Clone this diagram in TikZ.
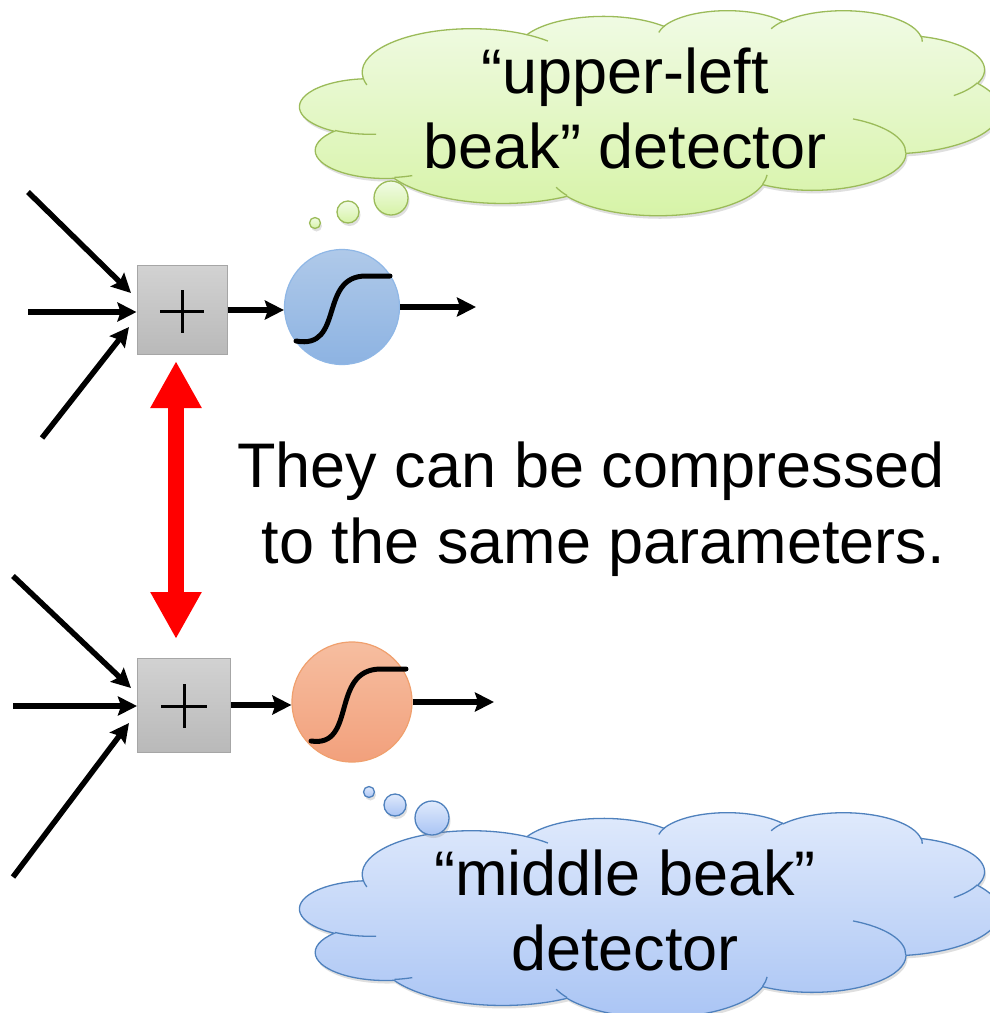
\documentclass[tikz,border=0pt]{standalone}
\usepackage{fontspec}
\setmainfont{Liberation Sans}
\usetikzlibrary{arrows.meta,shadows}
\definecolor{gcloudtop}{HTML}{F1FBE6}
\definecolor{gcloudbot}{HTML}{D6F3A6}
\definecolor{gcloudline}{HTML}{9BBB59}
\definecolor{bcloudtop}{HTML}{E0EAFC}
\definecolor{bcloudbot}{HTML}{A9C4F4}
\definecolor{bcloudline}{HTML}{4F81BD}
\definecolor{bluetop}{HTML}{AFC9E9}
\definecolor{bluebot}{HTML}{8DB3E2}
\definecolor{blueline}{HTML}{8FB7E6}
\definecolor{orangetop}{HTML}{F6BEA0}
\definecolor{orangebot}{HTML}{F2A07C}
\definecolor{orangeline}{HTML}{F0A06E}
\definecolor{boxtop}{HTML}{D2D2D2}
\definecolor{boxbot}{HTML}{B9B9B9}
\definecolor{boxline}{HTML}{A6A6A6}
% ---- PowerPoint cloud geometry (43200 grid / 100) ----
\newcommand\cpath{}
\newcommand\ooarc[4]{%
  \pgfmathsetmacro\tS{atan2(#1*sin(#3),#2*cos(#3))}%
  \pgfmathsetmacro\tE{atan2(#1*sin(#3+#4),#2*cos(#3+#4))}%
  \pgfmathsetmacro\dT{ifthenelse(#4>0,mod(\tE-\tS+720,360),-mod(\tS-\tE+720,360))}%
  \xdef\cpath{\cpath arc[x radius=#1,y radius=#2,start angle=\tS,delta angle=\dT]}}
\newcommand\oomove[1]{\xdef\cpath{\cpath (#1)}}
\gdef\cpath{(39.00,143.70)}
\ooarc{67.53}{91.90}{-190.48748}{123.78053}
\ooarc{53.33}{72.67}{-144.10238}{89.94523}
\ooarc{43.65}{59.45}{-145.80792}{99.72302}
\ooarc{48.57}{65.95}{-130.98607}{117.24173}
\ooarc{53.33}{72.73}{-78.70888}{109.02692}
\ooarc{67.75}{92.20}{-46.26725}{130.269}
\ooarc{57.85}{78.67}{0.62502}{114.03333}
\ooarc{67.52}{92.15}{22.4516}{115.17255}
\ooarc{77.20}{105.43}{66.24263}{75.71102}
\ooarc{43.60}{59.18}{-274.94208}{146.73557}
\ooarc{43.45}{59.45}{-246.8285}{152.51885}
\xdef\cpath{\cpath -- cycle}
\let\cloudouter\cpath
\gdef\cpath{}
\oomove{46.93,261.77}\ooarc{43.45}{59.45}{86.742}{26.4295}
\oomove{69.28,348.99}\ooarc{43.60}{59.18}{73.61047}{11.44747}
\oomove{164.78,390.90}\ooarc{67.52}{92.15}{137.62415}{14.0811}
\oomove{288.27,347.51}\ooarc{67.52}{92.15}{6.45327}{15.99835}
\oomove{341.29,229.54}\ooarc{57.85}{78.67}{-70.29235}{70.91737}
\oomove{417.98,153.54}\ooarc{53.33}{72.73}{30.31803}{27.7515}
\oomove{383.24,54.26}\ooarc{48.57}{65.95}{-13.74433}{14.8589}
\oomove{290.78,39.52}\ooarc{48.57}{65.95}{-149.18145}{18.19537}
\oomove{221.41,47.20}\ooarc{43.65}{59.45}{-163.49427}{17.68635}
\oomove{140.00,51.92}\ooarc{67.53}{91.90}{-66.70695}{12.31935}
\oomove{41.27,157.89}\ooarc{67.53}{91.90}{157.65435}{11.85817}
\let\cloudinner\cpath
\tikzset{
  arr/.style={line width=5.5pt,-{Stealth[length=19pt,width=19pt,inset=3pt]}},
  sumbox/.style={draw=boxline,line width=1pt,top color=boxtop,bottom color=boxbot,minimum width=90pt,minimum height=89pt,inner sep=0pt},
  bluecirc/.style={circle,draw=blueline,line width=1.2pt,top color=bluetop,bottom color=bluebot,minimum size=115pt,inner sep=0pt},
  orangecirc/.style={circle,draw=orangeline,line width=1.2pt,top color=orangetop,bottom color=orangebot,minimum size=120pt,inner sep=0pt},
  sig/.style={line width=5pt,line cap=round},
  bigtext/.style={font=\fontsize{63}{76}\selectfont,inner sep=0pt},
  cshadow/.style={drop shadow={opacity=0.25,shadow xshift=1.5pt,shadow yshift=-3pt}},
}
\begin{document}
\begin{tikzpicture}[x=1pt,y=-1pt]
\useasboundingbox (0,0) rectangle (990,1013);
\fill[white] (0,0) rectangle (990,1013);
% ---------- clouds ----------
\begin{scope}[shift={(300,10)},x=1.62037pt,y=-0.474537pt]
  \path[cshadow,draw=gcloudline,line width=1.3pt,top color=gcloudtop,bottom color=gcloudbot] \cloudouter;
  \draw[gcloudline,line width=1.3pt] \cloudinner;
\end{scope}
\begin{scope}[shift={(300,812)},x=1.62037pt,y=-0.474537pt]
  \path[cshadow,draw=bcloudline,line width=1.3pt,top color=bcloudtop,bottom color=bcloudbot] \cloudouter;
  \draw[bcloudline,line width=1.3pt] \cloudinner;
\end{scope}
% thought bubbles
\foreach \n/\cx/\cy/\r in {g1/315/223/5.5,g2/348/212/11,g3/391/198/17}
  \path[cshadow,draw=gcloudline,line width=1.3pt,top color=gcloudtop,bottom color=gcloudbot] (\cx,\cy) circle[radius=\r];
\foreach \n/\cx/\cy/\r in {b1/369/792/5.5,b2/395/805/11,b3/432/818/17}
  \path[cshadow,draw=bcloudline,line width=1.3pt,top color=bcloudtop,bottom color=bcloudbot] (\cx,\cy) circle[radius=\r];
\node[bigtext,anchor=base] (gt1) at (625,93) {“upper-left};
\node[bigtext,anchor=base] (gt2) at (625,168) {beak” detector};
\node[bigtext,anchor=base] (bt1) at (625,895) {“middle beak”};
\node[bigtext,anchor=base] (bt2) at (625,970) {detector};
% ---------- main text ----------
\node[bigtext,anchor=base east] (m1) at (945,487) {They can be compressed};
\node[bigtext,anchor=base east] (m2) at (945,563) {to the same parameters.};
% ---------- top neuron ----------
\node[sumbox] (s1) at (182,310) {};
\draw[line width=3pt] (160,311) -- (204,311) (182,290) -- (182,333);
\node[bluecirc] (c1) at (342,307) {};
\draw[sig] (296,341) .. controls (345,350) and (318,276) .. (366,276) -- (390,276);
\coordinate (i1a) at (28,192);
\coordinate (i1b) at (28,312);
\coordinate (i1c) at (42,438);
\coordinate (o1) at (476,307);
\draw[arr] (i1a) -- (131,293);
\draw[arr] (i1b) -- (s1.west |- i1b);
\draw[arr] (i1c) -- (129,327);
\draw[arr] (s1.east |- 0,310) -- (c1.west |- 0,310);
\draw[arr] (c1.east) -- (o1);
% ---------- bottom neuron ----------
\node[sumbox,minimum width=93pt,minimum height=94pt] (s2) at (184,705) {};
\draw[line width=3pt] (161,706) -- (207,706) (184,684) -- (184,728);
\node[orangecirc] (c2) at (352,702) {};
\draw[sig] (311,741) .. controls (357,748) and (330,670) .. (380,669) -- (406,669);
\coordinate (i2a) at (13,576);
\coordinate (i2b) at (13,706);
\coordinate (i2c) at (13,877);
\coordinate (o2) at (494,702);
\draw[arr] (i2a) -- (131,688);
\draw[arr] (i2b) -- (s2.west |- i2b);
\draw[arr] (i2c) -- (129,723);
\draw[arr] (s2.east |- 0,705) -- (c2.west |- 0,705);
\draw[arr] (c2.east) -- (o2);
% ---------- red double arrow ----------
\draw[red,line width=16pt,{Triangle[length=47pt,width=48pt]}-{Triangle[length=47pt,width=48pt]}] (176,361) -- (176,639);
\end{tikzpicture}
\end{document}
